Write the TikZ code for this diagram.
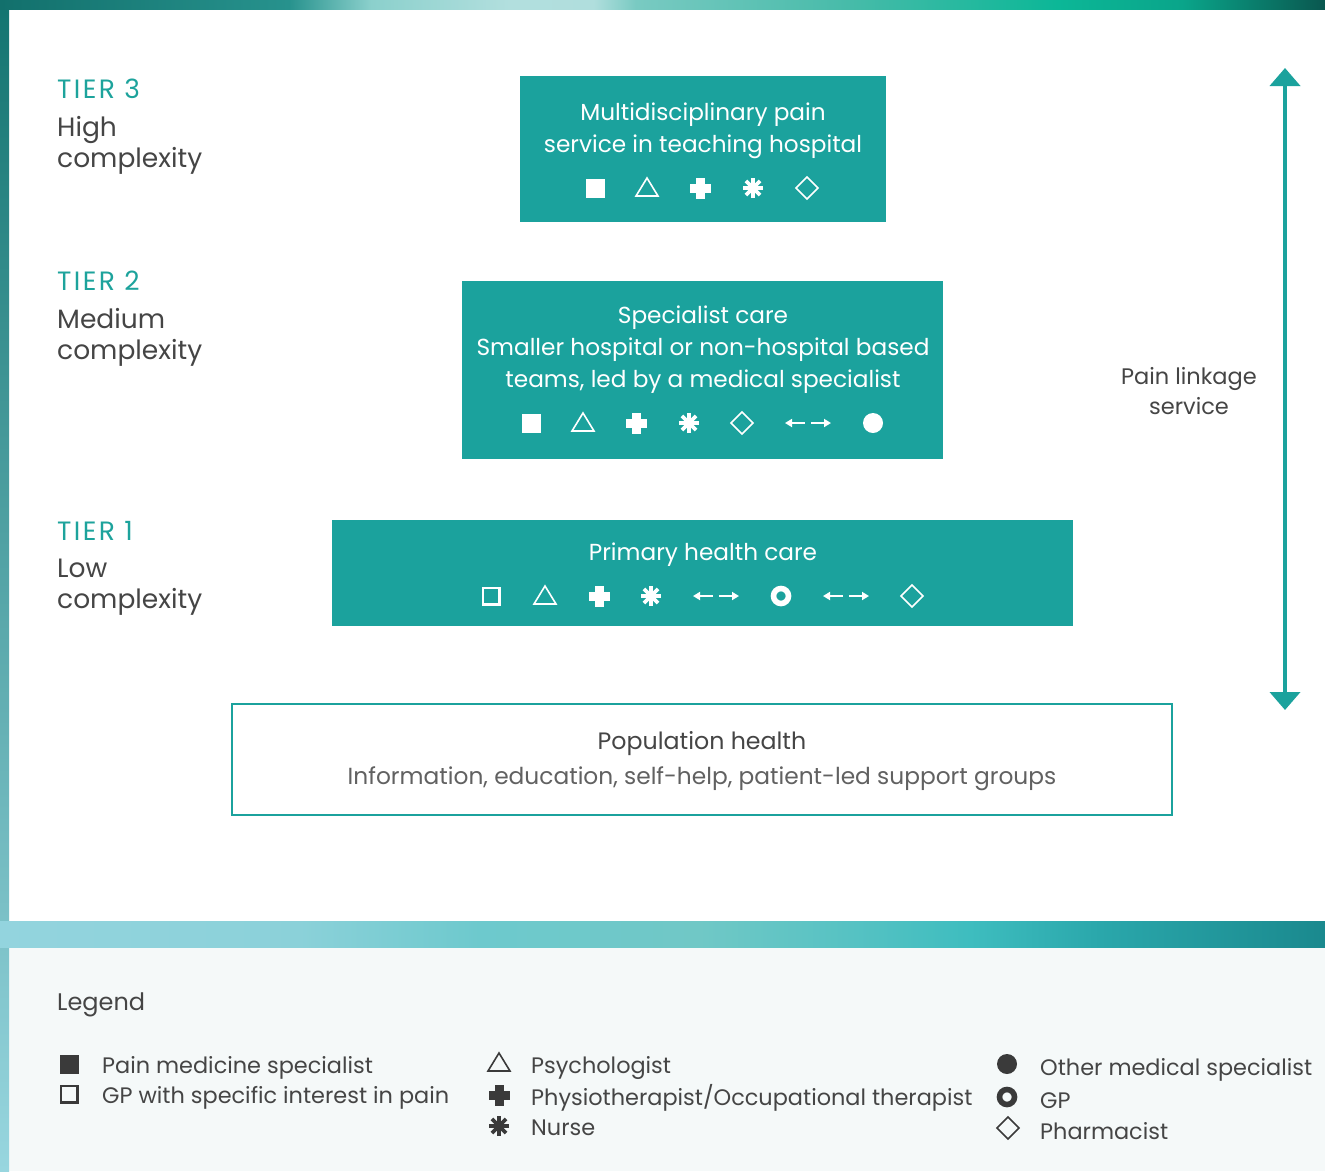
\documentclass[tikz,border=0pt]{standalone}
\usepackage{fontspec}
\setmainfont{Poppins}
\usetikzlibrary{arrows.meta,positioning}

\definecolor{boxteal}{HTML}{1BA29D}
\definecolor{tierteal}{HTML}{1DA39C}
\definecolor{darktext}{HTML}{454545}
\definecolor{legendbg}{HTML}{F5F9F9}
\definecolor{legsym}{HTML}{3A3A3A}
\definecolor{edgetop}{HTML}{137470}
\definecolor{edgebot}{HTML}{98D6DF}
% top band stops
\definecolor{tbA}{HTML}{12706C}
\definecolor{tbB}{HTML}{27928D}
\definecolor{tbC}{HTML}{8BD0CC}
\definecolor{tbD}{HTML}{B2DFDE}
\definecolor{tbE}{HTML}{B0DEDD}
\definecolor{tbF}{HTML}{79CAC2}
\definecolor{tbG}{HTML}{47BBA9}
\definecolor{tbH}{HTML}{0CB797}
\definecolor{tbI}{HTML}{0AA58A}
\definecolor{tbJ}{HTML}{0A574F}
% middle band stops
\definecolor{mbA}{HTML}{93D4DE}
\definecolor{mbB}{HTML}{8BD1D9}
\definecolor{mbC}{HTML}{6DC9CD}
\definecolor{mbD}{HTML}{70C8C6}
\definecolor{mbE}{HTML}{56C2C3}
\definecolor{mbF}{HTML}{3EBDBF}
\definecolor{mbG}{HTML}{2AA7AB}
\definecolor{mbH}{HTML}{1A898E}

\pgfdeclarehorizontalshading{topband}{100bp}{color(0bp)=(tbA); color(25bp)=(tbA); color(35.9bp)=(tbB); color(39bp)=(tbC);
  color(44.2bp)=(tbD); color(47.4bp)=(tbE); color(49bp)=(tbF); color(57bp)=(tbG); color(64.9bp)=(tbH);
  color(69.6bp)=(tbI); color(75bp)=(tbJ); color(100bp)=(tbJ)}
\pgfdeclarehorizontalshading{midband}{100bp}{color(0bp)=(mbA); color(25bp)=(mbA); color(36.3bp)=(mbB); color(43.1bp)=(mbC);
  color(51.4bp)=(mbD); color(57.1bp)=(mbE); color(61.6bp)=(mbF); color(66.5bp)=(mbG); color(75bp)=(mbH); color(100bp)=(mbH)}

\tikzset{%
    tierbox/.style={%
        rectangle, fill=boxteal, inner sep=0pt, outer sep=0pt
    },
    popbox/.style={%
        rectangle, draw=boxteal, line width=2.5pt, fill=white, inner sep=0pt
    },
    boxtext/.style={%
        text=white, align=center, inner sep=0pt, font=\fontsize{23.2}{32}\selectfont
    },
    tierhead/.style={%
        anchor=west, text=tierteal, inner sep=0pt, font=\fontsize{26.5}{31}\selectfont\addfontfeatures{LetterSpace=9}
    },
    tiersub/.style={%
        anchor=west, align=left, text=darktext, inner sep=0pt, font=\fontsize{26.5}{31}\selectfont
    },
    legtext/.style={%
        anchor=west, text=darktext, inner sep=0pt, font=\fontsize{22.4}{30}\selectfont
    },
    linkarrow/.style={%
        {Triangle[width=30pt,length=18pt]}-{Triangle[width=30pt,length=18pt]}, line width=4pt, draw=boxteal
    },
    pics/psqfill/.style={code={\fill (-9.5,-9.5) rectangle (9.5,9.5);}},
    pics/psqopen/.style={code={\draw[line width=2.4pt] (-8.3,-8.3) rectangle (8.3,8.3);}},
    pics/ptri/.style={code={\draw[line width=1.6pt, line join=miter] (-11,8) -- (0,-10) -- (11,8) -- cycle;}},
    pics/pplus/.style={code={\fill (-4.5,-10.5) rectangle (4.5,10.5); \fill (-10.5,-4.5) rectangle (10.5,4.5);}},
    pics/pstar/.style={code={\foreach \a in {0,45,90,135} \draw[line width=3.6pt] (\a:10) -- (\a+180:10);}},
    pics/parrows/.style={code={%
        \draw[line width=2pt, -{Triangle[width=8pt,length=7pt]}] (-3,0) -- (-23,0);
        \draw[line width=2pt, -{Triangle[width=8pt,length=7pt]}] (3,0) -- (23,0);}},
    pics/pring/.style={code={\draw[line width=5.6pt] (0,0) circle (7.5);}},
    pics/pdot/.style={code={\fill (0,0) circle (10);}},
    pics/pdiam/.style={code={\draw[line width=1.6pt] (0,-11) -- (11,0) -- (0,11) -- (-11,0) -- cycle;}},
}

\begin{document}
\begin{tikzpicture}[x=1pt,y=-1pt]
    \useasboundingbox (0,0) rectangle (1325,1171);

    % frame and bands
    \fill[white] (0,0) rectangle (1325,921);
    \fill[legendbg] (0,947) rectangle (1325,1171);
    \shade[top color=edgetop, bottom color=edgebot] (0,0) rectangle (9,1171);
    \shade[shading=topband] (0,0) rectangle (1325,9);
    \shade[shading=midband] (0,921) rectangle (1325,947);

    % tier labels
    \node[tierhead] (tierthreehead) at (57,88.5) {TIER 3};
    \node[tiersub] (tierthreesub) at (57,145) {High\\complexity};
    \node[tierhead] (tiertwohead) at (57,280.5) {TIER 2};
    \node[tiersub] (tiertwosub) at (57,337) {Medium\\complexity};
    \node[tierhead] (tieronehead) at (57,530.5) {TIER 1};
    \node[tiersub] (tieronesub) at (57,587) {Low\\complexity};

    % tier 3
    \node[tierbox, minimum width=366pt, minimum height=146pt] (tierthree) at (703,149) {};
    \node[boxtext] (tierthreetxt) at (703,130.5) {Multidisciplinary pain\\service in teaching hospital};
    \foreach \sx/\sym in {595/psqfill,647/ptri,700/pplus,753/pstar,807/pdiam}
      \pic[white] at (\sx,188) {\sym};

    % tier 2
    \node[tierbox, minimum width=481pt, minimum height=178pt] (tiertwo) at (702.5,370) {};
    \node[boxtext] (tiertwotxt) at (703,349.5) {Specialist care\\Smaller hospital or non-hospital based\\teams, led by a medical specialist};
    \foreach \sx/\sym in {531/psqfill,583/ptri,636/pplus,689/pstar,742/pdiam,808/parrows,873/pdot}
      \pic[white] at (\sx,423) {\sym};

    % tier 1
    \node[tierbox, minimum width=741pt, minimum height=106pt] (tierone) at (702.5,573) {};
    \node[boxtext] (tieronetxt) at (703,554.5) {Primary health care};
    \foreach \sx/\sym in {491/psqopen,545/ptri,599/pplus,651/pstar,716/parrows,781/pring,846/parrows,912/pdiam}
      \pic[white] at (\sx,596) {\sym};

    % population
    \node[popbox, minimum width=940pt, minimum height=111pt] (population) at (702,759.5) {};
    \node[text=darktext, font=\fontsize{23.7}{30}\selectfont] (poptitle) at (702,744) {Population health};
    \node[text=darktext!85, font=\fontsize{23.3}{30}\selectfont] (popsub) at (702,779) {Information, education, self-help, patient-led support groups};

    % linkage arrow
    \coordinate (linktop) at (1285,68);
    \coordinate (linkbot) at (1285,710);
    \draw[linkarrow] (linktop) -- (linkbot);
    \node[text=darktext, align=center, font=\fontsize{22.5}{30}\selectfont] (linktxt) at (1189,391.5) {Pain linkage\\service};

    % legend
    \node[legtext, font=\fontsize{24}{30}\selectfont] (legendhead) at (57,1005) {Legend};
    \pic[legsym] at (69,1064) {psqfill};
    \node[legtext] (legpain) at (102,1068) {Pain medicine specialist};
    \pic[legsym] at (69,1094) {psqopen};
    \node[legtext] (leggpint) at (102,1098) {GP with specific interest in pain};
    \pic[legsym] at (499,1063) {ptri};
    \node[legtext] (legpsych) at (531,1068) {Psychologist};
    \pic[legsym] at (499,1095) {pplus};
    \node[legtext] (legphysio) at (531,1097.5) {Physiotherapist/Occupational therapist};
    \pic[legsym] at (499,1126) {pstar};
    \node[legtext] (legnurse) at (531,1127.5) {Nurse};
    \pic[legsym] at (1007,1064) {pdot};
    \node[legtext] (legother) at (1040,1070) {Other medical specialist};
    \pic[legsym] at (1007,1097) {pring};
    \node[legtext] (leggp) at (1040,1101) {GP};
    \pic[legsym] at (1008,1128) {pdiam};
    \node[legtext] (legpharm) at (1040,1131.5) {Pharmacist};

\end{tikzpicture}
\end{document}
